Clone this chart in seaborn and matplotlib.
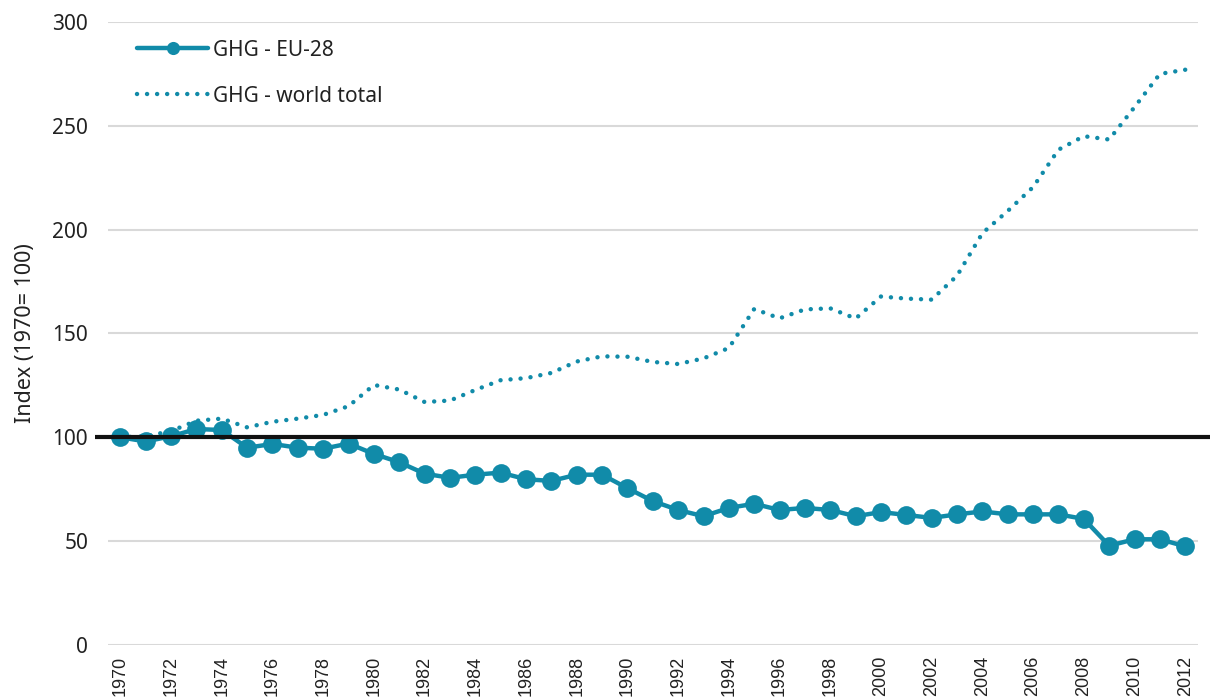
import matplotlib
matplotlib.use("Agg")
import matplotlib.pyplot as plt
import seaborn as sns
import pandas as pd

# Greenhouse gas emissions index (1970 = 100)
years = list(range(1970, 2013))

ghg_eu28 = [100, 98, 100.5, 104, 103.5, 95, 96.8, 95, 94.5, 97,
            92, 88, 82.5, 80.5, 82, 83, 79.8, 79, 82, 82,
            75.5, 69.3, 65, 62, 66, 68, 65, 66, 65, 62,
            64, 62.6, 61.2, 62.9, 64.3, 62.9, 62.9, 62.9, 60.7, 47.8,
            50.9, 50.9, 47.5]

ghg_world = [100, 100.5, 103, 108, 109, 104.8, 107.5, 109, 110.8, 115,
             125.2, 123, 117, 117.7, 122.8, 127.5, 128.5, 131, 136.5, 139,
             138.8, 136.3, 135.3, 138, 143, 161.8, 157.3, 161.6, 162.1, 157.2,
             167.8, 166.8, 166.3, 177.8, 198.3, 209, 220.5, 238.5, 245, 243.4,
             259, 275, 277]

y_ticks = [0, 50, 100, 150, 200, 250, 300]
x_ticks = list(range(1970, 2013, 2))
baseline = 100

teal = "#118ba9"

df = pd.DataFrame({"year": years, "eu": ghg_eu28, "world": ghg_world})

sns.set_theme(style="whitegrid")
plt.rcParams["font.family"] = ["Noto Sans", "DejaVu Sans"]

fig = plt.figure(figsize=(12.1, 7), dpi=100)
ax = fig.add_axes([0.089, 0.0786, 0.901, 0.89])

sns.lineplot(data=df, x="year", y="world", ax=ax, color=teal,
             linewidth=3.2, linestyle=(0, (0.01, 2.25)),
             dash_capstyle="round", label="GHG - world total", zorder=3)
sns.lineplot(data=df, x="year", y="eu", ax=ax, color=teal,
             linewidth=3.2, marker="o", markersize=13.5, markeredgewidth=0,
             label="GHG - EU-28", zorder=4)

# reference line at the base year level
ax.plot([1969.0, 2013.0], [baseline, baseline], color="#111111",
        linewidth=3.0, clip_on=False, zorder=5, solid_capstyle="butt")

ax.set_xlim(1969.5, 2012.5)
ax.set_ylim(0, 300)
ax.set_yticks(y_ticks)
ax.set_xticks(x_ticks)
ax.set_xticklabels([str(y) for y in x_ticks], rotation=90,
                   fontfamily="Liberation Sans", fontsize=13, color="#222222")
ax.tick_params(axis="y", labelsize=15, pad=14, length=0, labelcolor="#222222")
ax.tick_params(axis="x", pad=8, length=0)

ax.grid(axis="y", color="#d9d9d9", linewidth=1.5)
ax.grid(axis="x", visible=False)
for s in ax.spines.values():
    s.set_visible(False)

ax.set_xlabel("")
ax.set_ylabel("Index (1970= 100)", fontsize=15.5, color="#222222", labelpad=12)

handles, labels = ax.get_legend_handles_labels()
order = [labels.index("GHG - EU-28"), labels.index("GHG - world total")]
leg = ax.legend([handles[i] for i in order], [labels[i] for i in order],
                loc="upper left", bbox_to_anchor=(0.0195, 0.985),
                frameon=False, fontsize=15, handlelength=3.4,
                handletextpad=0.25, labelspacing=1.2, markerscale=0.7,
                borderaxespad=0)
for t in leg.get_texts():
    t.set_color("#222222")

fig.savefig("out.png", dpi=100)
